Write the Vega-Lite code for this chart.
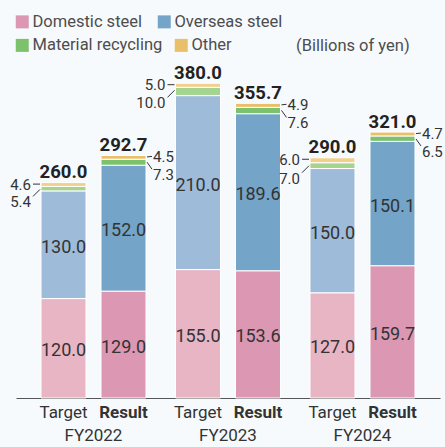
{
  "$schema": "https://vega.github.io/schema/vega-lite/v6.json",
  "autosize": "none",
  "width": 424,
  "height": 338,
  "padding": {"left": 16, "top": 60, "right": 5, "bottom": 49},
  "background": "#f6fafd",
  "config": {"view": {"stroke": null}, "font": "Roboto"},
  "data": {"values": [
    {"fy": "FY2022", "type": "Target", "segment": "Domestic steel", "value": 120.0},
    {"fy": "FY2022", "type": "Target", "segment": "Overseas steel", "value": 130.0},
    {"fy": "FY2022", "type": "Target", "segment": "Material recycling", "value": 5.4},
    {"fy": "FY2022", "type": "Target", "segment": "Other", "value": 4.6},
    {"fy": "FY2022", "type": "Target", "segment": "Total", "value": 260.0},
    {"fy": "FY2022", "type": "Result", "segment": "Domestic steel", "value": 129.0},
    {"fy": "FY2022", "type": "Result", "segment": "Overseas steel", "value": 152.0},
    {"fy": "FY2022", "type": "Result", "segment": "Material recycling", "value": 7.3},
    {"fy": "FY2022", "type": "Result", "segment": "Other", "value": 4.5},
    {"fy": "FY2022", "type": "Result", "segment": "Total", "value": 292.7},
    {"fy": "FY2023", "type": "Target", "segment": "Domestic steel", "value": 155.0},
    {"fy": "FY2023", "type": "Target", "segment": "Overseas steel", "value": 210.0},
    {"fy": "FY2023", "type": "Target", "segment": "Material recycling", "value": 10.0},
    {"fy": "FY2023", "type": "Target", "segment": "Other", "value": 5.0},
    {"fy": "FY2023", "type": "Target", "segment": "Total", "value": 380.0},
    {"fy": "FY2023", "type": "Result", "segment": "Domestic steel", "value": 153.6},
    {"fy": "FY2023", "type": "Result", "segment": "Overseas steel", "value": 189.6},
    {"fy": "FY2023", "type": "Result", "segment": "Material recycling", "value": 7.6},
    {"fy": "FY2023", "type": "Result", "segment": "Other", "value": 4.9},
    {"fy": "FY2023", "type": "Result", "segment": "Total", "value": 355.7},
    {"fy": "FY2024", "type": "Target", "segment": "Domestic steel", "value": 127.0},
    {"fy": "FY2024", "type": "Target", "segment": "Overseas steel", "value": 150.0},
    {"fy": "FY2024", "type": "Target", "segment": "Material recycling", "value": 7.0},
    {"fy": "FY2024", "type": "Target", "segment": "Other", "value": 6.0},
    {"fy": "FY2024", "type": "Target", "segment": "Total", "value": 290.0},
    {"fy": "FY2024", "type": "Result", "segment": "Domestic steel", "value": 159.7},
    {"fy": "FY2024", "type": "Result", "segment": "Overseas steel", "value": 150.1},
    {"fy": "FY2024", "type": "Result", "segment": "Material recycling", "value": 6.5},
    {"fy": "FY2024", "type": "Result", "segment": "Other", "value": 4.7},
    {"fy": "FY2024", "type": "Result", "segment": "Total", "value": 321.0}
  ]},
  "transform": [{"stack": "value", "groupby": ["fy", "type"], "as": ["lo", "hi"]}],
  "encoding": {
    "x": {
      "field": "fy", "type": "nominal", "sort": ["FY2022", "FY2023", "FY2024"],
      "scale": {"paddingInner": 0.2193, "paddingOuter": 0.186, "align": 0.5},
      "axis": {"title": null, "labelAngle": 0, "ticks": false, "tickSize": 0, "grid": false,
               "domainColor": "#555555", "domainWidth": 1, "labelFontSize": 17, "labelColor": "#333333",
               "labelPadding": 29}
    }
  },
  "layer": [
    {
      "transform": [{"filter": "datum.segment !== 'Total' && datum.type === 'Target'"}],
      "mark": {"type": "bar", "stroke": "#ffffff", "strokeWidth": 1},
      "encoding": {
        "xOffset": {"field": "type", "type": "nominal", "scale": {"domain": ["Target", "Result"], "paddingInner": 0.25, "paddingOuter": 0}},
        "y": {"field": "hi", "type": "quantitative", "scale": {"domain": [0, 408], "nice": false, "zero": true}, "axis": null},
        "y2": {"field": "lo"},
        "color": {"field": "segment", "type": "nominal",
                  "scale": {"domain": ["Domestic steel", "Overseas steel", "Material recycling", "Other"],
                            "range": ["#e8b5c5", "#9ebcd9", "#a4d48f", "#f1cf8d"]},
                  "legend": null}
      }
    },
    {
      "transform": [{"filter": "datum.segment !== 'Total' && datum.type === 'Result'"}],
      "mark": {"type": "bar", "stroke": "#ffffff", "strokeWidth": 1},
      "encoding": {
        "xOffset": {"field": "type", "type": "nominal", "scale": {"domain": ["Target", "Result"], "paddingInner": 0.25, "paddingOuter": 0}},
        "y": {"field": "hi", "type": "quantitative", "scale": {"domain": [0, 408], "nice": false}, "axis": null},
        "y2": {"field": "lo"},
        "color": {"field": "segment", "type": "nominal",
                  "scale": {"domain": ["Domestic steel", "Overseas steel", "Material recycling", "Other"],
                            "range": ["#dc98b2", "#74a5c8", "#7cc16b", "#e9bf6a"]},
                  "legend": {"orient": "none", "legendX": -2, "legendY": -46.5, "direction": "horizontal",
                             "values": ["Domestic steel", "Overseas steel"], "title": null,
                             "symbolType": "square", "symbolSize": 169,
                             "symbolStrokeWidth": 0, "labelFontSize": 16.5, "labelColor": "#4d4d4d",
                             "labelOffset": 2, "columnPadding": 13, "padding": 0}}
      }
    },
    {
      "transform": [{"filter": "datum.segment === 'Material recycling' || datum.segment === 'Other'"}],
      "mark": {"type": "text", "text": ""},
      "encoding": {
        "color": {"field": "segment", "type": "nominal",
                  "scale": {"domain": ["Material recycling", "Other"], "range": ["#7cc16b", "#e9bf6a"]},
                  "legend": {"orient": "none", "legendX": -2, "legendY": -23, "direction": "horizontal",
                             "symbolType": "square", "symbolSize": 169,
                             "symbolStrokeWidth": 0, "labelFontSize": 16.5, "labelColor": "#4d4d4d",
                             "labelOffset": 2, "columnPadding": 10, "padding": 0,
                             "title": "(Billions of yen)", "titleOrient": "right", "titleAnchor": "end",
                             "titleFontSize": 16.5, "titleFontWeight": "normal", "titleColor": "#4d4d4d",
                             "titlePadding": 64}}
      }
    },
    {
      "transform": [{"filter": "datum.segment === 'Domestic steel' || datum.segment === 'Overseas steel'"}],
      "mark": {"type": "text", "fontSize": 18, "color": "#333333", "baseline": "alphabetic", "dy": 8},
      "encoding": {
        "xOffset": {"field": "type", "type": "nominal", "scale": {"domain": ["Target", "Result"], "paddingInner": 0.25, "paddingOuter": 0}},
        "y": {"field": "value", "type": "quantitative", "stack": "zero", "bandPosition": 0.5, "scale": {"domain": [0, 408], "nice": false}},
        "order": {"field": "lo", "type": "quantitative", "sort": "ascending"},
        "text": {"field": "value", "type": "quantitative", "format": ".1f"}
      }
    },
    {
      "transform": [{"filter": "datum.segment === 'Total'"}],
      "mark": {"type": "text", "fontSize": 18.5, "fontWeight": "bold", "color": "#222222", "baseline": "alphabetic", "dy": -4.5},
      "encoding": {
        "xOffset": {"field": "type", "type": "nominal", "scale": {"domain": ["Target", "Result"], "paddingInner": 0.25, "paddingOuter": 0}},
        "y": {"field": "value", "type": "quantitative", "stack": null, "scale": {"domain": [0, 408], "nice": false}},
        "text": {"field": "value", "type": "quantitative", "format": ".1f"}
      }
    },
    {
      "transform": [{"filter": "datum.segment === 'Total' && datum.type === 'Target'"}],
      "mark": {"type": "text", "fontSize": 17, "color": "#333333", "baseline": "alphabetic", "dy": 20},
      "encoding": {
        "xOffset": {"field": "type", "type": "nominal", "scale": {"domain": ["Target", "Result"], "paddingInner": 0.25, "paddingOuter": 0}},
        "y": {"datum": 0},
        "text": {"field": "type"}
      }
    },
    {
      "transform": [{"filter": "datum.segment === 'Total' && datum.type === 'Result'"}],
      "mark": {"type": "text", "fontSize": 17, "fontWeight": "bold", "color": "#333333", "baseline": "alphabetic", "dy": 20},
      "encoding": {
        "xOffset": {"field": "type", "type": "nominal", "scale": {"domain": ["Target", "Result"], "paddingInner": 0.25, "paddingOuter": 0}},
        "y": {"datum": 0},
        "text": {"field": "type"}
      }
    },
    {
      "transform": [{"filter": "datum.type === 'Target' && datum.segment === 'Other'"}],
      "mark": {"type": "text", "fontSize": 15, "color": "#333333", "align": "right", "baseline": "alphabetic", "dx": -10, "dy": 7},
      "encoding": {
        "x": {"field": "fy", "type": "nominal", "sort": ["FY2022", "FY2023", "FY2024"], "bandPosition": 0},
        "y": {"field": "hi", "type": "quantitative", "scale": {"domain": [0, 408], "nice": false}},
        "text": {"field": "value", "type": "quantitative", "format": ".1f"}
      }
    },
    {
      "transform": [{"filter": "datum.type === 'Target' && datum.segment === 'Material recycling'"}],
      "mark": {"type": "text", "fontSize": 15, "color": "#333333", "align": "right", "baseline": "alphabetic", "dx": -10, "dy": 21},
      "encoding": {
        "x": {"field": "fy", "type": "nominal", "sort": ["FY2022", "FY2023", "FY2024"], "bandPosition": 0},
        "y": {"field": "hi", "type": "quantitative", "scale": {"domain": [0, 408], "nice": false}},
        "text": {"field": "value", "type": "quantitative", "format": ".1f"}
      }
    },
    {
      "transform": [{"filter": "datum.type === 'Result' && datum.segment === 'Other'"}],
      "mark": {"type": "text", "fontSize": 15, "color": "#333333", "align": "left", "baseline": "alphabetic", "dx": 7, "dy": 6.5},
      "encoding": {
        "x": {"field": "fy", "type": "nominal", "sort": ["FY2022", "FY2023", "FY2024"], "bandPosition": 1},
        "y": {"field": "hi", "type": "quantitative", "scale": {"domain": [0, 408], "nice": false}},
        "text": {"field": "value", "type": "quantitative", "format": ".1f"}
      }
    },
    {
      "transform": [{"filter": "datum.type === 'Result' && datum.segment === 'Material recycling'"}],
      "mark": {"type": "text", "fontSize": 15, "color": "#333333", "align": "left", "baseline": "alphabetic", "dx": 7, "dy": 21},
      "encoding": {
        "x": {"field": "fy", "type": "nominal", "sort": ["FY2022", "FY2023", "FY2024"], "bandPosition": 1},
        "y": {"field": "hi", "type": "quantitative", "scale": {"domain": [0, 408], "nice": false}},
        "text": {"field": "value", "type": "quantitative", "format": ".1f"}
      }
    },
    {
      "transform": [{"filter": "datum.type === 'Target' && datum.segment === 'Other'"}],
      "mark": {"type": "rule", "color": "#333333", "strokeWidth": 1, "xOffset": -8, "x2Offset": -1, "yOffset": 1.5, "y2Offset": 1.5},
      "encoding": {
        "x": {"field": "fy", "type": "nominal", "sort": ["FY2022", "FY2023", "FY2024"], "bandPosition": 0},
        "x2": {"field": "fy", "bandPosition": 0},
        "y": {"field": "hi", "type": "quantitative", "scale": {"domain": [0, 408], "nice": false}},
        "y2": {"field": "hi"}
      }
    },
    {
      "transform": [{"filter": "datum.type === 'Target' && datum.segment === 'Material recycling'"}],
      "mark": {"type": "rule", "color": "#333333", "strokeWidth": 1, "xOffset": -8, "x2Offset": -1, "yOffset": 10, "y2Offset": 3},
      "encoding": {
        "x": {"field": "fy", "type": "nominal", "sort": ["FY2022", "FY2023", "FY2024"], "bandPosition": 0},
        "x2": {"field": "fy", "bandPosition": 0},
        "y": {"field": "hi", "type": "quantitative", "scale": {"domain": [0, 408], "nice": false}},
        "y2": {"field": "hi"}
      }
    },
    {
      "transform": [{"filter": "datum.type === 'Result' && datum.segment === 'Other'"}],
      "mark": {"type": "rule", "color": "#333333", "strokeWidth": 1, "xOffset": 1, "x2Offset": 6, "yOffset": 1.5, "y2Offset": 1},
      "encoding": {
        "x": {"field": "fy", "type": "nominal", "sort": ["FY2022", "FY2023", "FY2024"], "bandPosition": 1},
        "x2": {"field": "fy", "bandPosition": 1},
        "y": {"field": "hi", "type": "quantitative", "scale": {"domain": [0, 408], "nice": false}},
        "y2": {"field": "hi"}
      }
    },
    {
      "transform": [{"filter": "datum.type === 'Result' && datum.segment === 'Material recycling'"}],
      "mark": {"type": "rule", "color": "#333333", "strokeWidth": 1, "xOffset": 1, "x2Offset": 6, "yOffset": 3, "y2Offset": 10},
      "encoding": {
        "x": {"field": "fy", "type": "nominal", "sort": ["FY2022", "FY2023", "FY2024"], "bandPosition": 1},
        "x2": {"field": "fy", "bandPosition": 1},
        "y": {"field": "hi", "type": "quantitative", "scale": {"domain": [0, 408], "nice": false}},
        "y2": {"field": "hi"}
      }
    }
  ],
  "resolve": {"scale": {"color": "independent"}}
}
